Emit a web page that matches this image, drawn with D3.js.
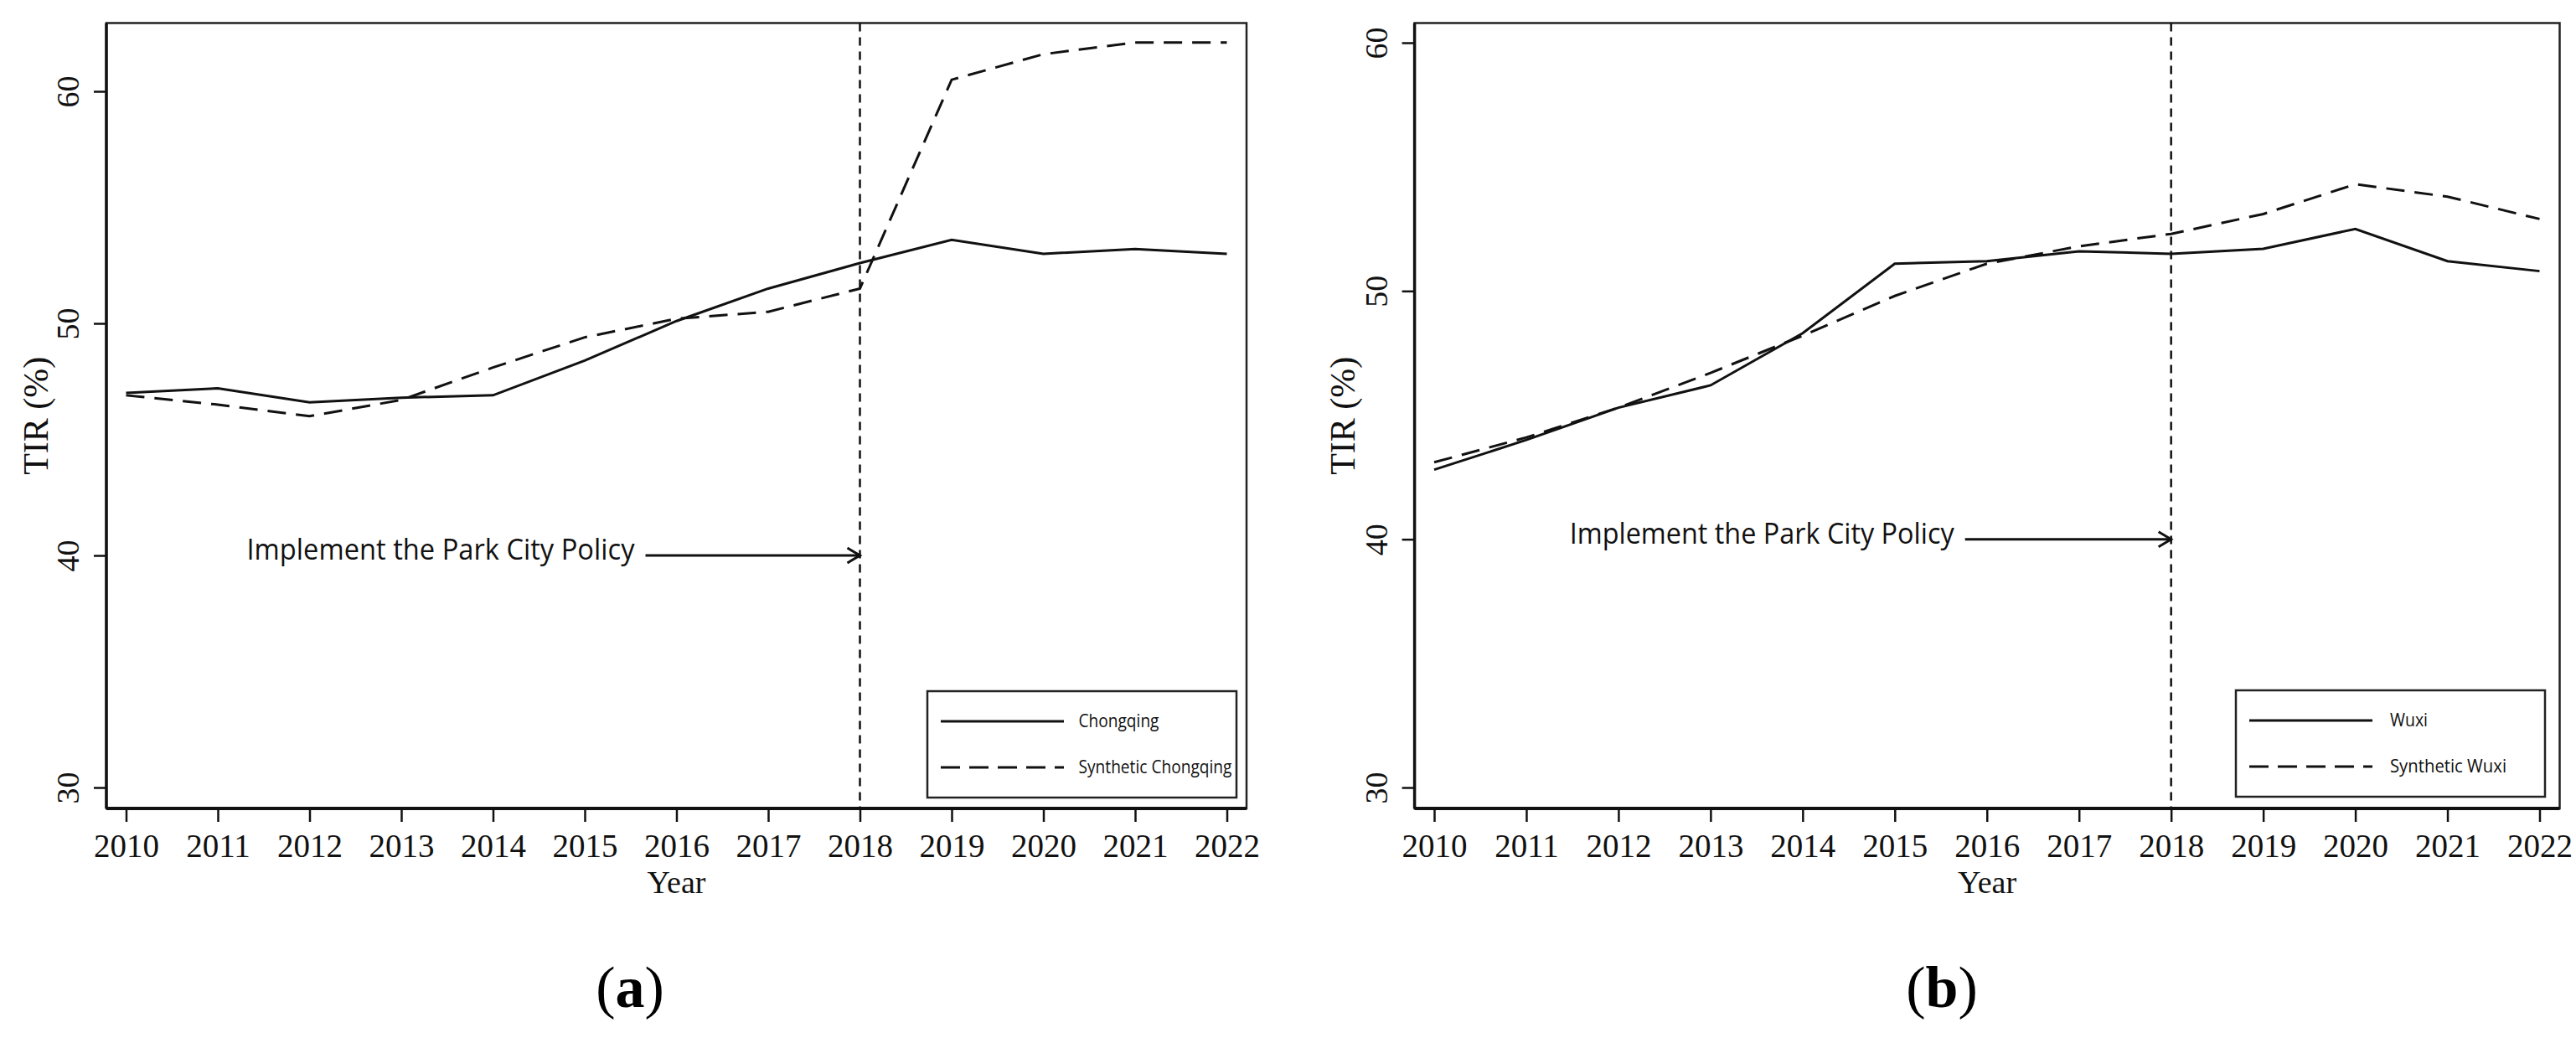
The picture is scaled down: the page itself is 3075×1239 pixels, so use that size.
<!DOCTYPE html>
<html>
<head>
<meta charset="utf-8">
<script src="https://cdn.jsdelivr.net/npm/d3@7"></script>
<style>
  body { margin: 0; background: #fff; }
  svg { display: block; }
  .tick line { stroke: #111; stroke-width: 2.5px; }
</style>
</head>
<body>
<svg id="chart" width="3075" height="1239"></svg>
<script>
// Donnees
var annees = [2010, 2011, 2012, 2013, 2014, 2015, 2016, 2017, 2018, 2019, 2020, 2021, 2022];
var ticksY = [30, 40, 50, 60];

var chongqing          = [47.0, 47.2, 46.6, 46.8, 46.9, 48.4, 50.1, 51.5, 52.6, 53.6, 53.0, 53.2, 53.0];
var chongqingSynthetic = [46.9, 46.5, 46.0, 46.7, 48.1, 49.4, 50.2, 50.5, 51.5, 60.5, 61.6, 62.1, 62.1];

var wuxi          = [42.8, 44.0, 45.3, 46.2, 48.3, 51.1, 51.2, 51.6, 51.5, 51.7, 52.5, 51.2, 50.8];
var wuxiSynthetic = [43.1, 44.1, 45.3, 46.7, 48.2, 49.8, 51.1, 51.8, 52.3, 53.1, 54.3, 53.8, 52.9];

var anneePolitique = 2018;
var valeurFleche = 40;
var texteFleche = "Implement the Park City Policy";

var panneaux = [
  {
    lettre: "a", serie: chongqing, synthetique: chongqingSynthetic,
    noms: ["Chongqing", "Synthetic Chongqing"],
    cadre: { gauche: 127, droite: 1488, haut: 27.5, bas: 965 },
    xPlage: [150.5, 1464.5], yPlage: [940, 109],
    legende: { x: 1107, y: 825, l: 369, h: 127, texteX: 1287.5, largeurs: [96, 183] },
    fleche: { longueur: 256, texte: 463 },
    etiquetteY: 42, legendeLettreX: 752
  },
  {
    lettre: "b", serie: wuxi, synthetique: wuxiSynthetic,
    noms: ["Wuxi", "Synthetic Wuxi"],
    cadre: { gauche: 1688.6, droite: 3055.5, haut: 27.5, bas: 965 },
    xPlage: [1712, 3031.5], yPlage: [940, 51],
    legende: { x: 2669, y: 824, l: 369, h: 127, texteX: 2853, largeurs: [45, 139] },
    fleche: { longueur: 246, texte: 459 },
    etiquetteY: 1602, legendeLettreX: 2318
  }
];

var svg = d3.select("#chart");
var serif = "'Liberation Serif', 'Times New Roman', serif";
var sans = "'Open Sans', 'Noto Sans', sans-serif";

panneaux.forEach(dessinerPanneau);

function dessinerPanneau (p) {
  var c = p.cadre;
  var x = d3.scaleLinear().domain([2010, 2022]).range(p.xPlage);
  var y = d3.scaleLinear().domain([30, 60]).range(p.yPlage);
  var g = svg.append("g").attr("class", "panneau-" + p.lettre);

  // Cadre
  g.append("rect")
    .attr("x", c.gauche).attr("y", c.haut)
    .attr("width", c.droite - c.gauche).attr("height", c.bas - c.haut)
    .attr("fill", "none").attr("stroke", "#222").attr("stroke-width", 2.5);
  g.append("line").attr("x1", c.gauche).attr("x2", c.droite).attr("y1", c.bas).attr("y2", c.bas)
    .attr("stroke", "#111").attr("stroke-width", 4);
  g.append("line").attr("x1", c.gauche).attr("x2", c.gauche).attr("y1", c.haut).attr("y2", c.bas)
    .attr("stroke", "#111").attr("stroke-width", 3.5);

  // Axe X
  var axeX = g.append("g").attr("transform", "translate(0," + c.bas + ")")
    .call(d3.axisBottom(x).tickValues(annees).tickFormat(d3.format("d")).tickSize(16).tickPadding(14));
  axeX.select(".domain").remove();
  axeX.selectAll("text").attr("font-family", serif).attr("font-size", 39).attr("fill", "#111");

  // Axe Y
  var axeY = g.append("g").attr("transform", "translate(" + c.gauche + ",0)")
    .call(d3.axisLeft(y).tickValues(ticksY).tickFormat(d3.format("d")).tickSize(15));
  axeY.select(".domain").remove();
  axeY.selectAll("text")
    .attr("transform", "rotate(-90)")
    .attr("x", 0).attr("y", -46).attr("dy", "0.35em")
    .attr("text-anchor", "middle")
    .attr("font-family", serif).attr("font-size", 38).attr("fill", "#111");

  // Titres des axes
  g.append("text")
    .attr("transform", "translate(" + p.etiquetteY + "," + ((c.haut + c.bas) / 2) + ") rotate(-90)")
    .attr("text-anchor", "middle").attr("dy", "0.35em")
    .attr("font-family", serif).attr("font-size", 42).attr("fill", "#111")
    .text("TIR (%)");
  g.append("text")
    .attr("x", (c.gauche + c.droite) / 2).attr("y", 1066)
    .attr("text-anchor", "middle")
    .attr("font-family", serif).attr("font-size", 38).attr("fill", "#111")
    .text("Year");

  // Ligne verticale de la politique
  g.append("line")
    .attr("x1", x(anneePolitique)).attr("x2", x(anneePolitique))
    .attr("y1", c.haut).attr("y2", c.bas)
    .attr("stroke", "#111").attr("stroke-width", 2.5).attr("stroke-dasharray", "10,7");

  // Courbes
  var ligne = d3.line().x(function (d, i) { return x(annees[i]); }).y(function (d) { return y(d); });
  g.append("path").datum(p.synthetique).attr("d", ligne)
    .attr("fill", "none").attr("stroke", "#111").attr("stroke-width", 3).attr("stroke-dasharray", "22,12");
  g.append("path").datum(p.serie).attr("d", ligne)
    .attr("fill", "none").attr("stroke", "#111").attr("stroke-width", 3);

  // Fleche
  var xf = x(anneePolitique), yf = y(valeurFleche);
  var x0 = xf - p.fleche.longueur;
  g.append("line").attr("x1", x0).attr("x2", xf).attr("y1", yf).attr("y2", yf)
    .attr("stroke", "#111").attr("stroke-width", 3);
  g.append("path")
    .attr("d", "M" + (xf - 15) + "," + (yf - 9) + "L" + xf + "," + yf + "L" + (xf - 15) + "," + (yf + 9))
    .attr("fill", "none").attr("stroke", "#111").attr("stroke-width", 3);
  g.append("text")
    .attr("x", x0 - 13 - p.fleche.texte).attr("y", yf + 5)
    .attr("textLength", p.fleche.texte).attr("lengthAdjust", "spacingAndGlyphs")
    .attr("font-family", sans).attr("font-size", 35).attr("fill", "#111")
    .text(texteFleche);

  // Legende
  var L = p.legende;
  var lg = g.append("g");
  lg.append("rect").attr("x", L.x).attr("y", L.y).attr("width", L.l).attr("height", L.h)
    .attr("fill", "#fff").attr("stroke", "#222").attr("stroke-width", 2.5);
  var tirets = [null, "23,11"];
  p.noms.forEach(function (nom, i) {
    var yy = L.y + 36 + i * 55;
    lg.append("line").attr("x1", L.x + 16).attr("x2", L.x + 163).attr("y1", yy).attr("y2", yy)
      .attr("stroke", "#111").attr("stroke-width", 3).attr("stroke-dasharray", tirets[i]);
    lg.append("text").attr("x", L.texteX).attr("y", yy + 7)
      .attr("textLength", L.largeurs[i]).attr("lengthAdjust", "spacingAndGlyphs")
      .attr("font-family", sans).attr("font-size", 21).attr("fill", "#111")
      .text(nom);
  });

  // Lettre du panneau
  var t = svg.append("text").attr("x", p.legendeLettreX).attr("y", 1202)
    .attr("text-anchor", "middle").attr("font-family", serif).attr("font-size", 70).attr("fill", "#000");
  t.append("tspan").text("(");
  t.append("tspan").attr("font-weight", "bold").text(p.lettre);
  t.append("tspan").text(")");
}
</script>
</body>
</html>
